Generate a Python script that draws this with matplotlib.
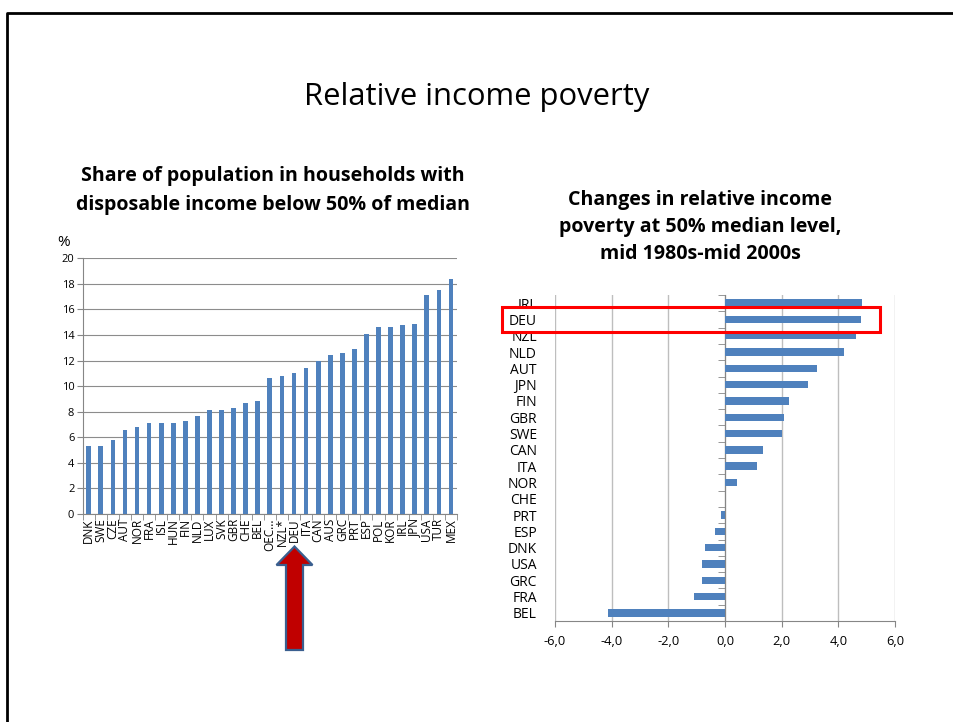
import matplotlib
matplotlib.use("Agg")
import matplotlib.pyplot as plt
from matplotlib.lines import Line2D
from matplotlib.patches import Polygon, Rectangle
import numpy as np

plt.rcParams['font.family'] = ['Open Sans', 'DejaVu Sans']

# ---- data ----
left_countries = ["DNK", "SWE", "CZE", "AUT", "NOR", "FRA", "ISL", "HUN", "FIN", "NLD",
                  "LUX", "SVK", "GBR", "CHE", "BEL", "OEC...", "NZL*", "DEU", "ITA", "CAN",
                  "AUS", "GRC", "PRT", "ESP", "POL", "KOR", "IRL", "JPN", "USA", "TUR", "MEX"]
left_values = [5.3, 5.3, 5.8, 6.6, 6.8, 7.1, 7.1, 7.1, 7.3, 7.7,
               8.1, 8.1, 8.3, 8.7, 8.8, 10.6, 10.8, 11.0, 11.4, 12.0,
               12.4, 12.6, 12.9, 14.1, 14.6, 14.6, 14.8, 14.9, 17.1, 17.5, 18.4]
left_yticks = [0, 2, 4, 6, 8, 10, 12, 14, 16, 18, 20]

right_countries = ["IRL", "DEU", "NZL", "NLD", "AUT", "JPN", "FIN", "GBR", "SWE", "CAN",
                   "ITA", "NOR", "CHE", "PRT", "ESP", "DNK", "USA", "GRC", "FRA", "BEL"]
right_values = [4.82, 4.79, 4.61, 4.2, 3.25, 2.94, 2.25, 2.1, 2.01, 1.33,
                1.12, 0.41, 0.0, -0.14, -0.34, -0.71, -0.8, -0.82, -1.09, -4.14]
right_xticks = [-6, -4, -2, 0, 2, 4, 6]
right_xticklabels = ["-6,0", "-4,0", "-2,0", "0,0", "2,0", "4,0", "6,0"]

BAR = "#4F81BD"
GRID_L = "#8C8C8C"
GRID_R = "#BEBEBE"
SPINE = "#868686"

W, H = 954, 722
fig = plt.figure(figsize=(W / 100, H / 100), dpi=100)

def fx(px):
    return px / W

def fy(py):
    return 1 - py / H

# slide border
fig.add_artist(Line2D([fx(7.5), fx(7.5), 1.0], [0.0, fy(12.5), fy(12.5)],
                      color="black", lw=2.0, transform=fig.transFigure))

# main title
fig.text(fx(477), fy(97), "Relative income poverty", ha="center", va="center",
         fontsize=22.3, color="black")

# ---- left chart ----
axL = fig.add_axes([fx(82.7), fy(514), fx(457) - fx(82.7), fy(258.3) - fy(514)])
xL = np.arange(len(left_countries))
axL.bar(xL, left_values, width=0.39, color=BAR, zorder=3)
axL.set_xlim(-0.5, len(left_countries) - 0.5)
axL.set_ylim(0, 20)
axL.set_yticks(left_yticks)
axL.set_yticklabels([str(v) for v in left_yticks], fontsize=8)
axL.yaxis.grid(True, color=GRID_L, lw=0.8, zorder=0)
axL.set_xticks(xL)
axL.set_xticklabels(left_countries, rotation=90, fontsize=8.5)
axL.set_xticks(np.arange(-0.5, len(left_countries)), minor=True)
axL.tick_params(axis="x", which="major", length=0, pad=3)
axL.tick_params(axis="x", which="minor", length=4, color=SPINE, direction="out")
axL.tick_params(axis="y", length=4, color=SPINE, direction="out", pad=2)
for s in ["top", "right"]:
    axL.spines[s].set_visible(False)
for s in ["left", "bottom"]:
    axL.spines[s].set_color(SPINE)
axL.set_axisbelow(True)

fig.text(fx(57), fy(243), "%", ha="left", va="center", fontsize=11)
fig.text(fx(273), fy(176), "Share of population in households with", ha="center",
         va="center", fontsize=14.1, fontweight="bold")
fig.text(fx(273), fy(205), "disposable income below 50% of median", ha="center",
         va="center", fontsize=14.1, fontweight="bold")

# ---- right chart ----
axR = fig.add_axes([fx(555), fy(621), fx(895) - fx(555), fy(295) - fy(621)])
yR = np.arange(len(right_countries))
axR.barh(yR, right_values, height=0.45, color=BAR, zorder=3)
axR.set_xlim(-6, 6)
axR.set_ylim(len(right_countries) - 0.5, -0.5)
axR.set_xticks(right_xticks)
axR.set_xticklabels(right_xticklabels, fontsize=9.3)
axR.xaxis.grid(True, color=GRID_R, lw=1.0, zorder=0)
axR.set_yticks(yR)
axR.set_yticklabels(right_countries, fontsize=12.8)
axR.set_yticks(np.arange(-0.5, len(right_countries)), minor=True)
axR.tick_params(axis="y", which="major", length=0, pad=13, left=True, right=False)
axR.tick_params(axis="y", which="minor", left=False, right=True, direction="in",
                length=5, color=SPINE, labelright=False)
axR.tick_params(axis="x", length=4, color=SPINE, direction="out", pad=6)
axR.spines["left"].set_visible(False)
axR.spines["top"].set_visible(False)
axR.spines["right"].set_position(("data", 0))
axR.spines["right"].set_color(SPINE)
axR.spines["bottom"].set_color(SPINE)
axR.set_axisbelow(True)

fig.text(fx(700), fy(200), "Changes in relative income", ha="center", va="center",
         fontsize=14.1, fontweight="bold")
fig.text(fx(700), fy(227), "poverty at 50% median level,", ha="center", va="center",
         fontsize=14.1, fontweight="bold")
fig.text(fx(700), fy(254), "mid 1980s-mid 2000s", ha="center", va="center",
         fontsize=14.1, fontweight="bold")

# red highlight box
fig.add_artist(Rectangle((fx(501.7), fy(332.3)), fx(880) - fx(501.7), fy(306.7) - fy(332.3),
                         fill=False, edgecolor="#FF0000", lw=2.2, transform=fig.transFigure,
                         zorder=10))

# red arrow
arrow_px = [(286, 650), (286, 565), (276.5, 565), (294.5, 546.5), (312.5, 565),
            (303, 565), (303, 650)]
fig.add_artist(Polygon([(fx(a), fy(b)) for a, b in arrow_px], closed=True,
                       facecolor="#C00000", edgecolor="#3A5F8F", lw=1.6,
                       transform=fig.transFigure, zorder=10))

fig.savefig("out.png", dpi=100)
